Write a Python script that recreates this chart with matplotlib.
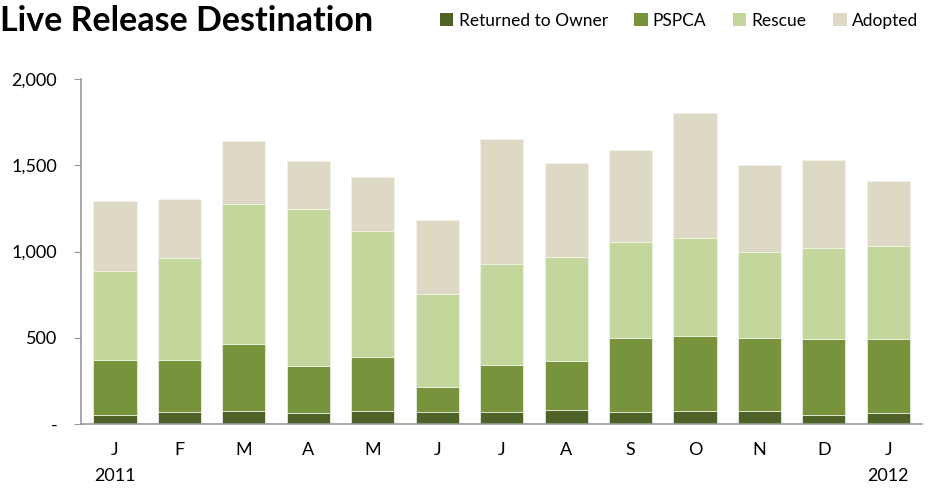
import matplotlib.pyplot as plt
import numpy as np
from matplotlib.patches import Patch

plt.rcParams['font.family'] = ['Lato', 'DejaVu Sans']

months = ["J", "F", "M", "A", "M", "J", "J", "A", "S", "O", "N", "D", "J"]
years = {0: "2011", 12: "2012"}

# segment values
returned = [50, 71, 77, 66, 77, 71, 71, 79, 71, 77, 77, 52, 62]
pspca = [323, 302, 387, 270, 313, 143, 271, 288, 429, 433, 422, 441, 429]
rescue = [514, 591, 813, 912, 731, 538, 586, 603, 555, 570, 500, 529, 539]
adopted = [406, 338, 364, 279, 311, 431, 722, 541, 533, 724, 502, 510, 379]

series = [("Returned to Owner", returned, "#4F6228"),
          ("PSPCA", pspca, "#77933C"),
          ("Rescue", rescue, "#C3D69B"),
          ("Adopted", adopted, "#DDD9C4")]

fig = plt.figure(figsize=(9.29, 4.91), dpi=100)
ax = fig.add_axes([0.087, 0.1365, 0.906, 0.7025])

x = np.arange(len(months))
bottom = np.zeros(len(months))
for name, vals, col in series:
    ax.bar(x, vals, 0.67, bottom=bottom, color=col, edgecolor="#f4f4ee", linewidth=0.5, label=name)
    bottom += np.array(vals)

ax.set_xlim(-0.53, 12.53)
ax.set_ylim(0, 2000)
ax.set_yticks([0, 500, 1000, 1500, 2000])
ax.set_yticklabels(["-", "500", "1,000", "1,500", "2,000"], fontsize=13)
labels = [m + ("\n" + years[i] if i in years else "\n") for i, m in enumerate(months)]
ax.set_xticks(x)
ax.set_xticklabels(labels, fontsize=13, linespacing=1.75, va="top")
ax.tick_params(axis="x", length=0, pad=13)
ax.tick_params(axis="y", length=5, color="#999999", pad=12)

for s in ["top", "right"]:
    ax.spines[s].set_visible(False)
for s in ["left", "bottom"]:
    ax.spines[s].set_color("#999999")
    ax.spines[s].set_linewidth(1.2)

fig.text(0.0, 0.958, "Live Release Destination", fontsize=24.5, fontweight="bold", va="center", ha="left")

handles = [Patch(facecolor=c, label=n) for n, _, c in series]
fig.legend(handles=handles, loc="center right", bbox_to_anchor=(1.005, 0.958), ncol=4,
           frameon=False, fontsize=12.5, handlelength=0.8, handleheight=0.8,
           handletextpad=0.3, columnspacing=1.5)

fig.savefig("out.png", dpi=100)
